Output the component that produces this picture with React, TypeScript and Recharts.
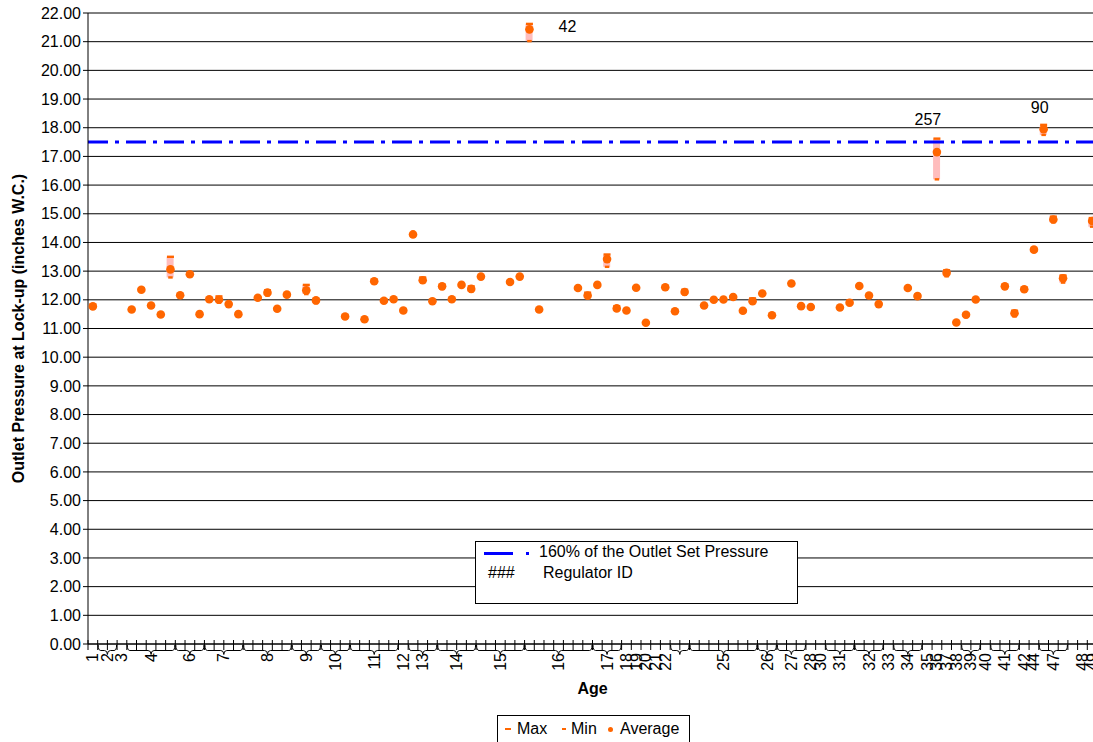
import React from "react";
import {
  ComposedChart,
  Bar,
  Line,
  XAxis,
  YAxis,
  CartesianGrid,
  ReferenceLine,
  LabelList,
  Label,
} from "recharts";

// one entry per regulator slot on the x axis (104 slots), null = no reading
const avgValues = [
  11.77, null, null, null, 11.66, 12.35, 11.8, 11.49, 13.06, 12.16,
  12.89, 11.5, 12.02, 12.0, 11.85, 11.5, null, 12.07, 12.25, 11.69,
  12.18, null, 12.33, 11.98, null, null, 11.42, null, 11.32, 12.65,
  11.97, 12.02, 11.63, 14.28, 12.68, 11.95, 12.47, 12.02, 12.52, 12.38,
  12.81, null, null, 12.62, 12.81, 21.43, 11.66, null, null, null,
  12.41, 12.15, 12.52, 13.42, 11.7, 11.63, 12.42, 11.2, null, 12.44,
  11.6, 12.27, null, 11.8, 12.0, 12.01, 12.1, 11.62, 11.95, 12.22,
  11.46, null, 12.57, 11.78, 11.75, null, null, 11.73, 11.9, 12.48,
  12.15, 11.85, null, null, 12.41, 12.13, null, 17.15, 12.94, 11.21,
  11.48, 12.01, null, null, 12.47, 11.53, 12.37, 13.75, 17.95, 14.8,
  12.75, null, null, 14.75,
];

const maxValues = [
  11.83, null, null, null, 11.7, 12.4, 11.82, 11.51, 13.5, 12.18,
  12.91, 11.52, 12.04, 12.12, 11.87, 11.52, null, 12.09, 12.33, 11.71,
  12.2, null, 12.52, 12.02, null, null, 11.47, null, 11.34, 12.7,
  12.02, 12.04, 11.67, 14.3, 12.78, 11.97, 12.52, 12.04, 12.54, 12.47,
  12.83, null, null, 12.66, 12.83, 21.62, 11.68, null, null, null,
  12.43, 12.25, 12.54, 13.58, 11.78, 11.65, 12.44, 11.22, null, 12.48,
  11.62, 12.35, null, 11.82, 12.02, 12.03, 12.12, 11.64, 12.05, 12.24,
  11.48, null, 12.59, 11.8, 11.77, null, null, 11.75, 11.97, 12.52,
  12.17, 11.87, null, null, 12.43, 12.18, null, 17.62, 13.03, 11.23,
  11.52, 12.03, null, null, 12.52, 11.62, 12.42, 13.78, 18.1, 14.9,
  12.85, null, null, 14.85,
];

const minValues = [
  11.7, null, null, null, 11.6, 12.3, 11.78, 11.47, 12.78, 12.14,
  12.87, 11.48, 12.0, 11.9, 11.83, 11.48, null, 12.05, 12.15, 11.67,
  12.16, null, 12.2, 11.88, null, null, 11.36, null, 11.3, 12.58,
  11.92, 12.0, 11.57, 14.26, 12.6, 11.93, 12.38, 12.0, 12.5, 12.28,
  12.79, null, null, 12.58, 12.79, 21.02, 11.64, null, null, null,
  12.39, 12.05, 12.5, 13.15, 11.62, 11.61, 12.4, 11.18, null, 12.4,
  11.58, 12.18, null, 11.78, 11.98, 11.99, 12.08, 11.6, 11.88, 12.2,
  11.44, null, 12.55, 11.76, 11.73, null, null, 11.71, 11.82, 12.42,
  12.13, 11.83, null, null, 12.39, 12.08, null, 16.2, 12.82, 11.19,
  11.4, 11.99, null, null, 12.4, 11.42, 12.3, 13.7, 17.75, 14.7,
  12.6, null, null, 14.55,
];

// age groups along the axis, and how many slots each one spans ("" = label hidden)
const ageGroups = [
  "1", "2", "3", "4", "6", "7", "8", "9", "10", "11",
  "12", "13", "14", "15", "16", "17", "18", "19", "20", "21",
  "22", "", "25", "26", "27", "28", "30", "31", "32", "33",
  "34", "35", "36", "37", "38", "39", "40", "41", "42", "44",
  "47", "", "48", "49",
];
const groupSizes = [
  1, 2, 1, 5, 3, 4, 5, 3, 3, 5,
  1, 3, 4, 5, 7, 3, 1, 1, 1, 1,
  1, 2, 7, 2, 3, 1, 1, 3, 3, 1,
  3, 1, 1, 1, 1, 2, 1, 3, 1, 1,
  3, 1, 1, 1,
];

// slot index -> regulator id shown next to the point
const regulatorIds: [number, string][] = [
  [45, "42"],
  [87, "257"],
  [98, "90"],
];

const yTicks = [0, 1, 2, 3, 4, 5, 6, 7, 8, 9, 10, 11, 12, 13, 14, 15, 16, 17, 18, 19, 20, 21, 22];
const setPressureLimit = 17.5;

const FONT = '"Liberation Sans", Arial, Helvetica, sans-serif';
const ORANGE = "#FF6600";
const PINK = "#FFBDBD";

const CHART_W = 1100;
const CHART_H = 742;
const MARGIN = { top: 13, right: 3, bottom: 0, left: 0 };
const Y_AXIS_W = 88;
const X_AXIS_H = 98;
const PLOT_LEFT = MARGIN.left + Y_AXIS_W;
const PLOT_W = CHART_W - MARGIN.right - PLOT_LEFT;
const AXIS_Y = CHART_H - MARGIN.bottom - X_AXIS_H;
const SLOT_W = PLOT_W / avgValues.length;

// where each id label sits relative to the max marker
const idLabelShift: Record<string, [number, number]> = {
  "42": [38, 3],
  "257": [-9, -19],
  "90": [-4, -17],
};

const idBySlot = new Map(regulatorIds);

const rows = avgValues.map((avg, i) => ({
  slot: i,
  avg,
  max: maxValues[i],
  min: minValues[i],
  range: avg == null ? null : [minValues[i], maxValues[i]],
  regId: idBySlot.get(i) ?? null,
}));

const groupAtSlot = new Map<number, { label: string; size: number }>();
{
  let s = 0;
  ageGroups.forEach((label, g) => {
    groupAtSlot.set(s, { label, size: groupSizes[g] });
    s += groupSizes[g];
  });
}

function AgeTick(props: any) {
  const { x, payload } = props;
  const i = Number(payload.value);
  const left = x - SLOT_W / 2;
  const right = x + SLOT_W / 2;
  const group = groupAtSlot.get(i);
  const els: React.ReactNode[] = [];

  if (i === 0) {
    els.push(<line key="l" x1={left} x2={left} y1={AXIS_Y - 4} y2={AXIS_Y + 6} stroke="#000" />);
  }
  els.push(<line key="r" x1={right} x2={right} y1={AXIS_Y - 4} y2={AXIS_Y + 6} stroke="#000" />);

  if (group) {
    const x0 = left;
    const x1 = left + group.size * SLOT_W;
    const cx = (x0 + x1) / 2;
    const yb = AXIS_Y + 6.5;
    if (group.size > 1) {
      const d = `M${x0 + 0.5},${AXIS_Y + 1} Q${x0 + 0.5},${yb} ${x0 + 3},${yb} L${cx - 3},${yb} Q${cx},${yb} ${cx},${yb + 4} Q${cx},${yb} ${cx + 3},${yb} L${x1 - 3},${yb} Q${x1 - 0.5},${yb} ${x1 - 0.5},${AXIS_Y + 1}`;
      els.push(<path key="b" d={d} fill="none" stroke="#000" />);
    }
    if (group.label) {
      const ty = AXIS_Y + 9;
      els.push(
        <text
          key="t"
          x={cx}
          y={ty}
          transform={`rotate(-90 ${cx} ${ty})`}
          textAnchor="end"
          dominantBaseline="central"
          fontSize={16}
          fill="#000"
        >
          {group.label}
        </text>
      );
    }
  }
  return <g>{els}</g>;
}

function dashDot(width: number, prefix: string) {
  return (p: any) => {
    if (p.cy == null || p.value == null) return <g key={`${prefix}-${p.index}`} />;
    return (
      <rect
        key={`${prefix}-${p.index}`}
        x={p.cx - width / 2}
        y={p.cy - 1.2}
        width={width}
        height={2.4}
        fill={ORANGE}
      />
    );
  };
}

function avgDot(p: any) {
  if (p.cy == null || p.value == null) return <g key={`avg-${p.index}`} />;
  return <circle key={`avg-${p.index}`} cx={p.cx} cy={p.cy} r={4.3} fill={ORANGE} />;
}

function IdLabel(p: any) {
  if (!p.value) return null;
  const [dx, dy] = idLabelShift[p.value] ?? [0, -18];
  return (
    <text x={p.x + dx} y={p.y + dy} textAnchor="middle" dominantBaseline="central" fontSize={16} fill="#000">
      {p.value}
    </text>
  );
}

export default function App() {
  return (
    <div
      style={{
        position: "absolute",
        left: 0,
        top: 0,
        width: 1093,
        height: 742,
        overflow: "hidden",
        background: "#fff",
        fontFamily: FONT,
      }}
    >
      <ComposedChart width={CHART_W} height={CHART_H} data={rows} margin={MARGIN}>
        <CartesianGrid vertical={false} stroke="#000" />
        <XAxis
          dataKey="slot"
          type="category"
          interval={0}
          height={X_AXIS_H}
          tickLine={false}
          axisLine={{ stroke: "#000" }}
          tick={<AgeTick />}
        >
          <Label
            content={() => (
              <text
                x={PLOT_LEFT + PLOT_W / 2}
                y={AXIS_Y + 44}
                textAnchor="middle"
                dominantBaseline="central"
                fontSize={16}
                fontWeight="bold"
                fill="#000"
              >
                Age
              </text>
            )}
          />
        </XAxis>
        <YAxis
          type="number"
          domain={[0, 22]}
          ticks={yTicks}
          interval={0}
          width={Y_AXIS_W}
          tickSize={5}
          tickLine={{ stroke: "#000" }}
          axisLine={{ stroke: "#000" }}
          tick={{ fontSize: 16, fill: "#000" }}
          tickFormatter={(v: number) => v.toFixed(2)}
        >
          <Label
            content={() => (
              <text
                x={18}
                y={(MARGIN.top + AXIS_Y) / 2}
                transform={`rotate(-90 18 ${(MARGIN.top + AXIS_Y) / 2})`}
                textAnchor="middle"
                dominantBaseline="central"
                fontSize={16}
                fontWeight="bold"
                fill="#000"
              >
                Outlet Pressure at Lock-up (inches W.C.)
              </text>
            )}
          />
        </YAxis>
        <ReferenceLine
          y={setPressureLimit}
          stroke="#0000FF"
          strokeWidth={3}
          strokeDasharray="20 7 4 7"
        />
        <Bar dataKey="range" barSize={7} fill={PINK} isAnimationActive={false} />
        <Line
          dataKey="max"
          stroke="none"
          dot={dashDot(7, "max")}
          activeDot={false}
          isAnimationActive={false}
        >
          <LabelList dataKey="regId" content={IdLabel} />
        </Line>
        <Line
          dataKey="min"
          stroke="none"
          dot={dashDot(4.5, "min")}
          activeDot={false}
          isAnimationActive={false}
        />
        <Line
          dataKey="avg"
          stroke="none"
          dot={avgDot}
          activeDot={false}
          isAnimationActive={false}
        />
      </ComposedChart>

      {/* legend inside the plot */}
      <div
        style={{
          position: "absolute",
          left: 475,
          top: 541,
          width: 323,
          height: 63,
          boxSizing: "border-box",
          border: "1px solid #000",
          background: "#fff",
          fontSize: 16,
          lineHeight: "18px",
          color: "#000",
        }}
      >
        <div style={{ position: "absolute", left: 8, top: 9.5, width: 29, height: 3, background: "#0000FF" }} />
        <div style={{ position: "absolute", left: 50, top: 9.5, width: 3, height: 3, background: "#0000FF" }} />
        <div style={{ position: "absolute", left: 63, top: 1, whiteSpace: "nowrap" }}>160% of the Outlet Set Pressure</div>
        <div style={{ position: "absolute", left: 12, top: 22, whiteSpace: "nowrap" }}>###</div>
        <div style={{ position: "absolute", left: 67, top: 22, whiteSpace: "nowrap" }}>Regulator ID</div>
      </div>

      {/* series legend */}
      <div
        style={{
          position: "absolute",
          left: 497,
          top: 715,
          width: 193,
          height: 30,
          boxSizing: "border-box",
          border: "1px solid #000",
          background: "#fff",
          fontSize: 16,
          lineHeight: "18px",
          color: "#000",
        }}
      >
        <div style={{ position: "absolute", left: 7, top: 12, width: 6, height: 2.4, background: ORANGE }} />
        <div style={{ position: "absolute", left: 19, top: 4, whiteSpace: "nowrap" }}>Max</div>
        <div style={{ position: "absolute", left: 64, top: 12, width: 4, height: 2.4, background: ORANGE }} />
        <div style={{ position: "absolute", left: 73, top: 4, whiteSpace: "nowrap" }}>Min</div>
        <div style={{ position: "absolute", left: 110, top: 10.5, width: 5, height: 5, borderRadius: 3, background: ORANGE }} />
        <div style={{ position: "absolute", left: 122, top: 4, whiteSpace: "nowrap" }}>Average</div>
      </div>
    </div>
  );
}
